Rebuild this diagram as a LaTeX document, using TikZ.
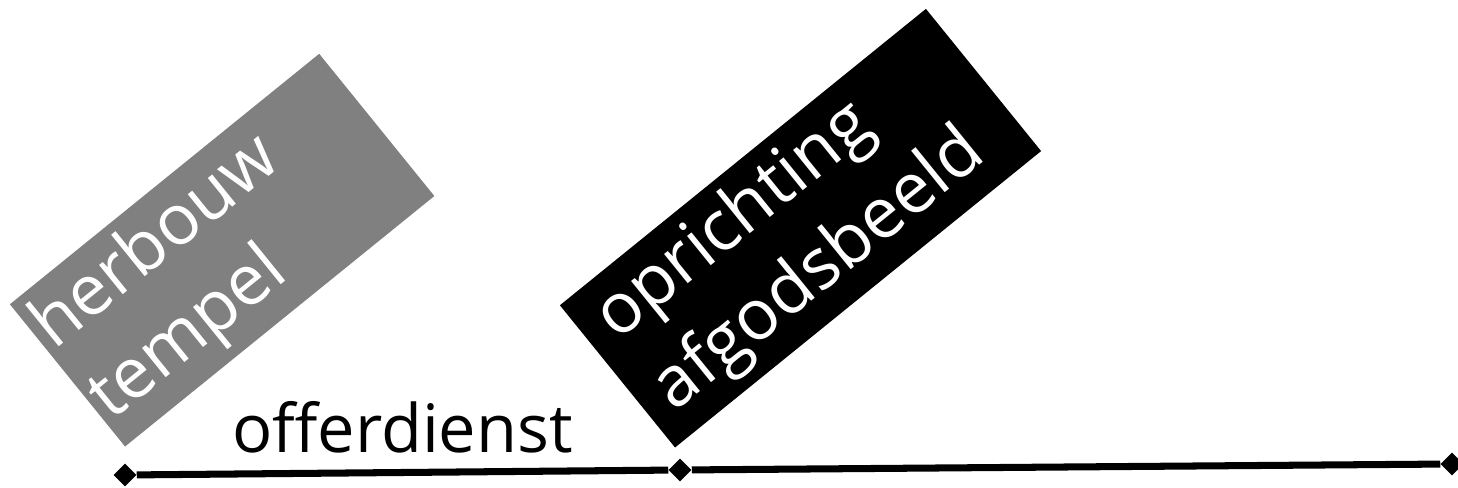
\documentclass[tikz,border=0pt]{standalone}
\usepackage{fontspec}
\setmainfont{Open Sans}
\usetikzlibrary{positioning, shapes.geometric, calc}
\definecolor{eventgray}{RGB}{128,128,128}

\begin{document}
\begin{tikzpicture}[
  tick/.style={diamond, fill=black, inner sep=0pt, minimum size=4.6mm},
  period/.style={line width=4pt},
  eventbox/.style={
    anchor=south west, rotate=39, text=white,
    minimum height=3.66cm, align=left, inner ysep=0pt,
    font=\fontsize{40}{52}\selectfont
  }
]
  \useasboundingbox (0,0) rectangle (29.16,9.76);

  \node[tick] (t0) at (2.5,0.26) {};
  \node[tick] (t1) at (13.6,0.36) {};
  \node[tick] (t2) at (29.04,0.48) {};

  \draw[period] (t0) -- (t1);
  \draw[period] (t1) -- (t2);

  \node[eventbox, fill=eventgray, inner xsep=1mm, text width=7.76cm] (temple)
    at ([yshift=5.6mm]t0.center) {herbouw\\tempel};
  \node[eventbox, fill=black, inner xsep=4.4mm, text width=8.54cm] (idol)
    at ([xshift=-1mm,yshift=4.4mm]t1.center) {oprichting\\afgodsbeeld};

  \node[anchor=base, font=\fontsize{38}{40}\selectfont] (offer)
    at ($(t0)!0.5!(t1)+(0,0.4)$) {offerdienst};
\end{tikzpicture}
\end{document}
